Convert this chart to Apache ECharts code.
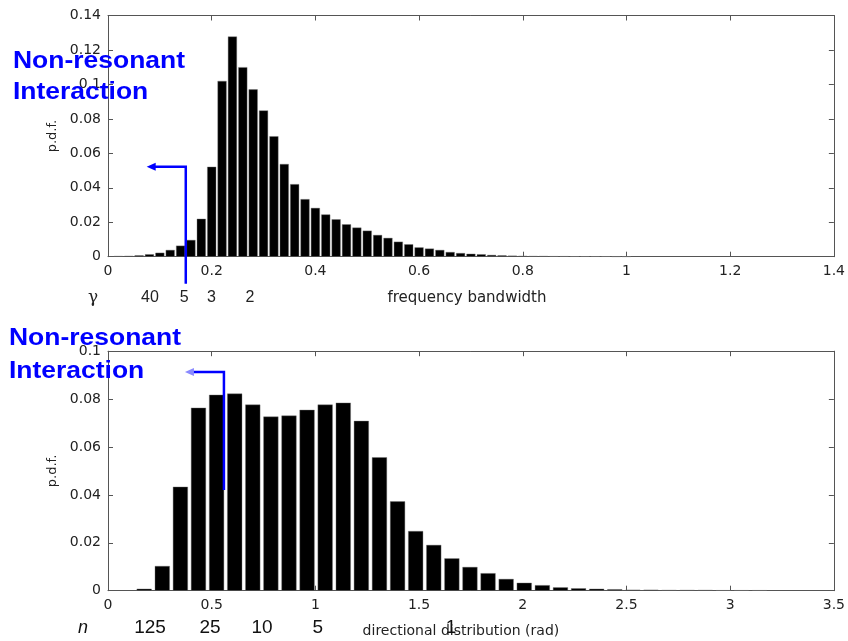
<!DOCTYPE html>
<html><head><meta charset="utf-8">
<script src="https://cdn.jsdelivr.net/npm/echarts@6/dist/echarts.min.js"></script>
<style>html,body{margin:0;padding:0;background:#fff}#c{width:848px;height:641px}</style>
</head><body><div id="c"></div>
<script>
// ---- top panel: frequency bandwidth histogram ----
const freqBins = [0.02,0.04,0.06,0.08,0.10,0.12,0.14,0.16,0.18,0.20,0.22,0.24,0.26,0.28,0.30,0.32,0.34,0.36,0.38,0.40,0.42,0.44,0.46,0.48,0.50,0.52,0.54,0.56,0.58,0.60,0.62,0.64,0.66,0.68,0.70,0.72,0.74,0.76,0.78,0.80,0.82,0.84,0.86,0.88,0.90,0.92,0.94,0.96,0.98,1.00];
const freqPdf = [0.0004,0.0005,0.0008,0.0014,0.0023,0.0039,0.0064,0.0097,0.0220,0.0522,0.1020,0.1278,0.1100,0.0971,0.0849,0.0699,0.0538,0.0421,0.0334,0.0283,0.0245,0.0217,0.0188,0.0169,0.0151,0.0126,0.0109,0.0087,0.0072,0.0054,0.0047,0.0039,0.0027,0.0021,0.0017,0.0014,0.0010,0.0008,0.0006,0.0005,0.0004,0.0004,0.0003,0.0003,0.0002,0.0002,0.0002,0.0002,0.0001,0.0001];
const freqAxisRange = [0, 1.4, 0.2];
const freqPdfRange = [0, 0.14, 0.02];
const gammaLabels = ['40','5','3','2'];
const gammaAt = [0.081, 0.147, 0.1995, 0.274];

// ---- bottom panel: directional distribution histogram ----
const dirBins = [0.1745,0.2618,0.3491,0.4363,0.5236,0.6109,0.6981,0.7854,0.8727,0.9599,1.0472,1.1345,1.2217,1.3090,1.3963,1.4835,1.5708,1.6581,1.7453,1.8326,1.9199,2.0071,2.0944,2.1817,2.2689,2.3562,2.4435,2.5307,2.6180,2.7053,2.7925,2.8798,2.9671,3.0543,3.1416];
const dirPdf = [0.0008,0.0103,0.0434,0.0764,0.0818,0.0823,0.0777,0.0727,0.0731,0.0755,0.0777,0.0785,0.0709,0.0557,0.0373,0.0249,0.0191,0.0135,0.0099,0.0073,0.0049,0.0033,0.0023,0.0014,0.0010,0.0008,0.0006,0.0004,0.0004,0.0003,0.0003,0.0003,0.0002,0.0002,0.0002];
const dirAxisRange = [0, 3.5, 0.5];
const dirPdfRange = [0, 0.1, 0.02];
const nLabels = ['125','25','10','5','1'];
const nAt = [0.2025, 0.492, 0.743, 1.012, 1.654];

// annotation anchor points (data space)
const topArrow = {x: 0.150, y: 0.0522, tipX: 0.0746};
const botArrow = {x: 0.559, y: 0.0913, tipX: 0.371, endY: 0.042};

const FONT = 'DejaVu Sans';
const AX = '#555';
const chart = echarts.init(document.getElementById('c'), null, {renderer: 'canvas'});

function xAx(grid, r, name, gap, pos, fs, pad) {
  const main = pos === 'bottom';
  return {
    type: 'value', gridIndex: grid, position: pos, min: r[0], max: r[1], interval: r[2],
    axisLine: {show: true, onZero: false, lineStyle: {color: AX, width: 1}},
    axisTick: {show: true, inside: true, length: 5, lineStyle: {color: AX}},
    axisLabel: {show: main, color: '#222', fontFamily: FONT, fontSize: 14, margin: 8},
    splitLine: {show: false},
    name: main ? name : '', nameLocation: 'middle', nameGap: gap,
    nameTextStyle: {color: '#222', fontFamily: FONT, fontSize: fs || 14, padding: pad || 0}
  };
}
function yAx(grid, r, pos) {
  const main = pos === 'left';
  return {
    type: 'value', gridIndex: grid, position: pos, min: r[0], max: r[1], interval: r[2],
    axisLine: {show: true, onZero: false, lineStyle: {color: AX, width: 1}},
    axisTick: {show: true, inside: true, length: 5, lineStyle: {color: AX}},
    axisLabel: {show: main, color: '#222', fontFamily: FONT, fontSize: 14, margin: 7},
    splitLine: {show: false},
    name: main ? 'p.d.f.' : '', nameLocation: 'middle', nameGap: 41, nameRotate: 90,
    nameTextStyle: {color: '#222', fontFamily: FONT, fontSize: 13}
  };
}

chart.setOption({
  animation: false,
  backgroundColor: '#fff',
  grid: [
    {left: 108, right: 14, top: 15.5, height: 241.2},
    {left: 108, right: 14, top: 351.2, height: 239.5}
  ],
  xAxis: [
    xAx(0, freqAxisRange, 'frequency bandwidth', 34, 'bottom', 15, [0, 8, 0, 0]),
    xAx(0, freqAxisRange, '', 0, 'top'),
    xAx(1, dirAxisRange, 'directional distribution (rad)', 34, 'bottom', 14, [0, 20, 0, 0]),
    xAx(1, dirAxisRange, '', 0, 'top')
  ],
  yAxis: [
    yAx(0, freqPdfRange, 'left'),
    yAx(0, freqPdfRange, 'right'),
    yAx(1, dirPdfRange, 'left'),
    yAx(1, dirPdfRange, 'right')
  ],
  series: [
    {type: 'bar', xAxisIndex: 0, yAxisIndex: 0, barWidth: 9,
     data: freqBins.map((x, i) => [x, freqPdf[i]]),
     itemStyle: {color: '#000', borderColor: '#777', borderWidth: 0.4}},
    {type: 'bar', xAxisIndex: 2, yAxisIndex: 2, barWidth: 15,
     data: dirBins.map((x, i) => [x, dirPdf[i]]),
     itemStyle: {color: '#000', borderColor: '#777', borderWidth: 0.4}}
  ]
});

function px(grid, x, y) { return chart.convertToPixel({gridIndex: grid}, [x, y]); }
const BLUE = '#0000ff';
const g = [];
function blueText(text, x, y) {
  g.push({type: 'text', x: x, y: y, scaleX: 1.08, z: 100,
    style: {text: text, fill: BLUE, font: 'bold 24.5px "Liberation Sans"', textVerticalAlign: 'middle', verticalAlign: 'middle'}});
}
blueText('Non-resonant', 13, 61);
blueText('Interaction', 13, 92);
blueText('Non-resonant', 9, 338);
blueText('Interaction', 9, 371);

function arrow(grid, a, endPx, headColor) {
  const c = px(grid, a.x, a.y);
  const t = px(grid, a.tipX, a.y);
  g.push({type: 'polyline', z: 90, shape: {points: [[c[0], endPx], [c[0], c[1]], [t[0] + 6, c[1]]]},
    style: {stroke: BLUE, lineWidth: 2.5, fill: null}});
  g.push({type: 'polygon', z: 91, shape: {points: [[t[0], c[1]], [t[0] + 9, c[1] - 4], [t[0] + 9, c[1] + 4]]},
    style: {fill: headColor}});
}
const topBase = px(0, 0, 0)[1];
arrow(0, topArrow, topBase + 27, BLUE);
arrow(1, botArrow, px(1, 0, botArrow.endY)[1], '#8a8aff');

// gamma row under top panel
const gy = topBase + 41;
g.push({type: 'text', x: 93, y: gy, z: 50, style: {text: 'γ', fill: '#222', font: '17px "DejaVu Serif"', textAlign: 'center', textVerticalAlign: 'middle', align: 'center', verticalAlign: 'middle'}});
gammaLabels.forEach((s, i) => {
  const p = px(0, gammaAt[i], 0);
  g.push({type: 'text', x: p[0], y: gy, z: 50, style: {text: s, fill: '#222', font: '16px "Liberation Sans"', align: 'center', verticalAlign: 'middle', textAlign: 'center', textVerticalAlign: 'middle'}});
});
// n row under bottom panel
const botBase = px(1, 0, 0)[1];
const ny = botBase + 37;
g.push({type: 'text', x: 83, y: ny, z: 50, style: {text: 'n', fill: '#111', font: 'italic 18px "Liberation Sans"', align: 'center', verticalAlign: 'middle', textAlign: 'center', textVerticalAlign: 'middle'}});
nLabels.forEach((s, i) => {
  const p = px(1, nAt[i], 0);
  g.push({type: 'text', x: p[0], y: ny, z: 50, style: {text: s, fill: '#111', font: '19px "Liberation Sans"', align: 'center', verticalAlign: 'middle', textAlign: 'center', textVerticalAlign: 'middle'}});
});
chart.setOption({graphic: g});
</script></body></html>
